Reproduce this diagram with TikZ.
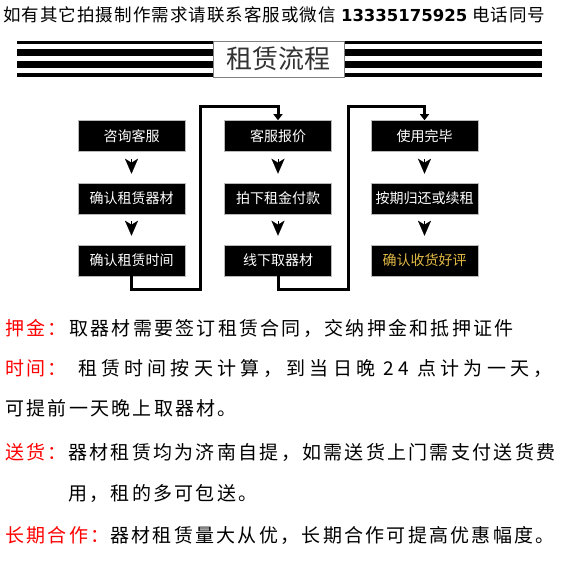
\documentclass[tikz,border=0pt]{standalone}
\usepackage{fontspec}
\setmainfont{Noto Sans CJK SC}
\newfontfamily\numfont{DejaVu Sans}
\newfontfamily\headfont[LetterSpace=6]{Noto Sans CJK SC}
\newfontfamily\notefont[LetterSpace=12]{Noto Sans CJK SC}
\newfontfamily\widefont[LetterSpace=22]{Noto Sans CJK SC}
\usetikzlibrary{arrows.meta}
\definecolor{goldtext}{RGB}{226,186,70}

\begin{document}
\begin{tikzpicture}[x=1pt,y=-1pt,
  stepbox/.style={fill=black,draw=gray!55,line width=.6pt,minimum width=107pt,minimum height=31pt,inner sep=0pt,text=white,font=\fontsize{14}{14}\selectfont},
  flowline/.style={line width=3pt,-{Triangle[length=6pt,width=9pt]}},
  downtip/.style={line width=.1pt,-{Stealth[length=15pt,width=13pt,inset=4pt]},shorten <=7pt,shorten >=9pt},
  note/.style={anchor=west,inner sep=0pt,font=\fontsize{19}{19}\notefont},
  notehead/.style={note,text=red}]
\useasboundingbox (0,0) rectangle (565,561);

\node[anchor=west,inner sep=0pt,font=\fontsize{17.5}{17.5}\headfont] (header) at (3,15) {如有其它拍摄制作需求请联系客服或微信 {\fontsize{16.5}{16.5}\numfont\bfseries 13335175925} 电话同号};

% stripes and title
\fill (17,41) rectangle (542,44);
\fill (17,49) rectangle (542,56);
\fill (17,61) rectangle (542,68);
\fill (17,73) rectangle (542,77);
\node[draw=gray,fill=white,minimum width=131pt,minimum height=36pt,inner sep=0pt,text=black!80,font=\fontsize{26}{26}\selectfont] (title) at (278.5,59) {租赁流程};

% steps
\node[stepbox] (a1) at (131.5,136) {咨询客服};
\node[stepbox] (a2) at (131.5,198.5) {确认租赁器材};
\node[stepbox] (a3) at (131.5,260.5) {确认租赁时间};
\node[stepbox] (b1) at (278,136) {客服报价};
\node[stepbox] (b2) at (278,198.5) {拍下租金付款};
\node[stepbox] (b3) at (278,260.5) {线下取器材};
\node[stepbox] (c1) at (424.5,136) {使用完毕};
\node[stepbox] (c2) at (424.5,198.5) {按期归还或续租};
\node[stepbox,text=goldtext] (c3) at (424.5,260.5) {确认收货好评};

\foreach \c in {a,b,c}{
  \draw[downtip] (\c1) -- (\c2);
  \draw[downtip] (\c2) -- (\c3);
}

\coordinate (turn1) at (200,107);
\coordinate (turn2) at (348,107);
\draw[flowline] (a3.south) -- ++(0,13) -| (turn1) -| (b1.north);
\draw[flowline] (b3.south) -- ++(0,13) -| (turn2) -| (c1.north);

% notes
\node[notehead] (deposit) at (5,328) {押金：};
\node[note] (depositbody) at (69,328) {取器材需要签订租赁合同，交纳押金和抵押证件};
\node[notehead] (time) at (5,368) {时间：};
\node[note,font=\fontsize{19}{19}\widefont] (timebody) at (78,368) {租赁时间按天计算，到当日晚 24 点计为一天，};
\node[note] (timemore) at (5,408) {可提前一天晚上取器材。};
\node[notehead] (delivery) at (5,452) {送货：};
\node[note] (deliverybody) at (68,452) {器材租赁均为济南自提，如需送货上门需支付送货费};
\node[note] (deliverymore) at (68,493) {用，租的多可包送。};
\node[notehead] (longterm) at (5,535) {长期合作：};
\node[note] (longtermbody) at (110,535) {器材租赁量大从优，长期合作可提高优惠幅度。};
\end{tikzpicture}
\end{document}
